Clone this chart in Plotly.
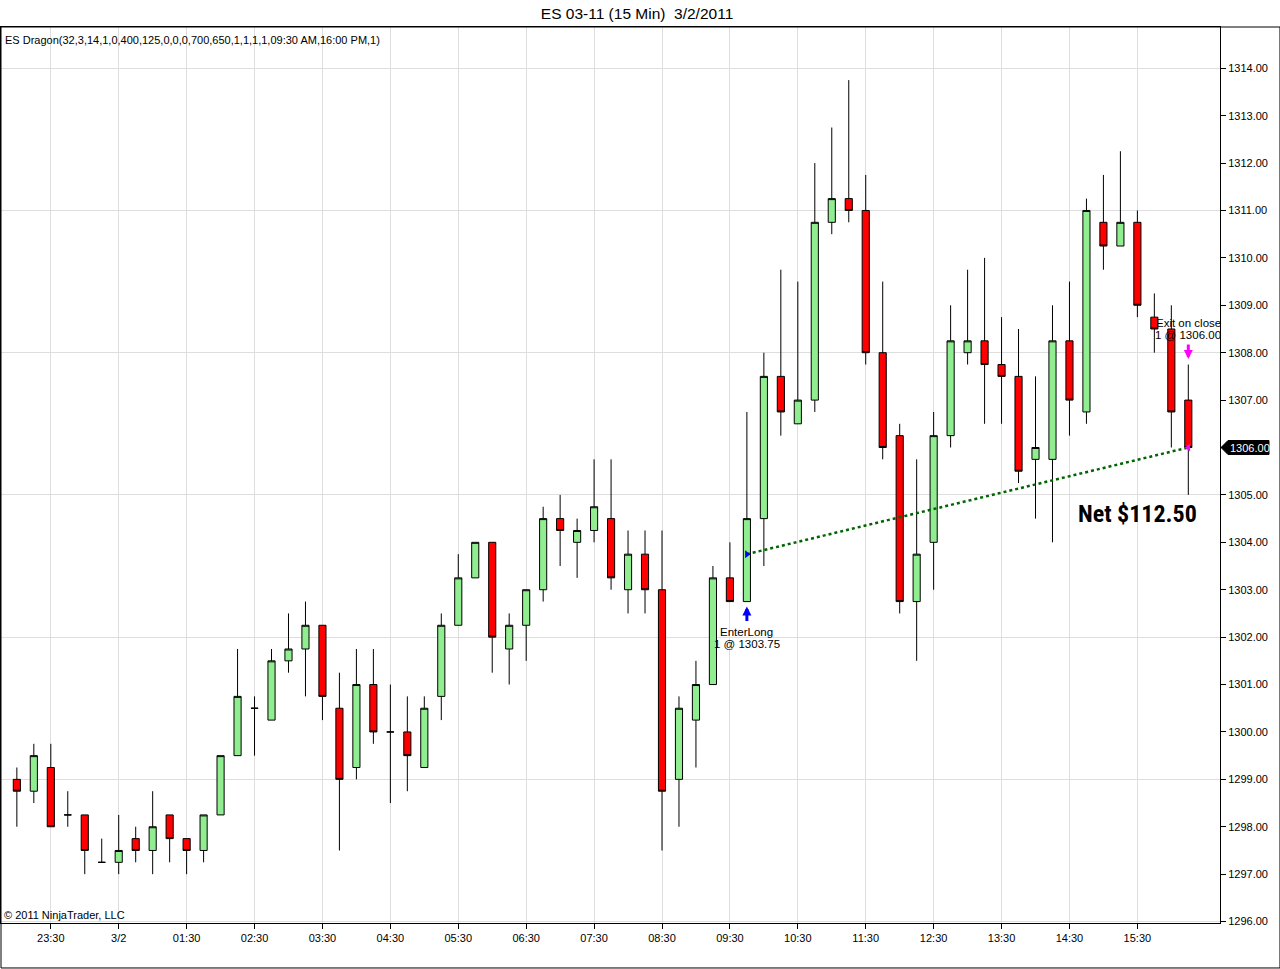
import pandas as pd
import plotly.graph_objects as go

# 15 minute bars, ES 03-11, session of 3/2/2011
bar_times = pd.date_range("2011-03-01 23:00", "2011-03-02 16:15", freq="15min")

open_ = [1299.00, 1298.75, 1299.25, 1298.25, 1298.25, 1297.25, 1297.25, 1297.75, 1297.50, 1298.25,
         1297.75, 1297.50, 1298.25, 1299.50, 1300.50, 1300.25, 1301.50, 1301.75, 1302.25, 1300.50,
         1299.25, 1301.00, 1300.00, 1300.00, 1299.25, 1300.75, 1302.25, 1303.25, 1304.00, 1301.75,
         1302.25, 1303.00, 1304.50, 1304.00, 1304.25, 1304.50, 1303.00, 1303.75, 1303.00, 1299.00,
         1300.25, 1301.00, 1303.25, 1302.75, 1304.50, 1307.50, 1306.50, 1307.00, 1310.75, 1311.25,
         1311.00, 1308.00, 1306.25, 1302.75, 1304.00, 1306.25, 1308.00, 1308.25, 1307.75, 1307.50,
         1305.75, 1305.75, 1308.25, 1306.75, 1310.75, 1310.25, 1310.75, 1308.75, 1308.50, 1307.00]
high = [1299.25, 1299.75, 1299.75, 1298.75, 1298.25, 1297.75, 1298.25, 1298.00, 1298.75, 1298.25,
        1297.75, 1298.25, 1299.50, 1301.75, 1300.75, 1301.75, 1302.50, 1302.75, 1302.25, 1301.25,
        1301.75, 1301.75, 1301.00, 1300.75, 1300.75, 1302.50, 1303.75, 1304.00, 1304.00, 1302.50,
        1303.00, 1304.75, 1305.00, 1304.50, 1305.75, 1305.75, 1304.25, 1304.25, 1304.25, 1300.75,
        1301.50, 1303.50, 1304.00, 1306.75, 1308.00, 1309.75, 1309.50, 1312.00, 1312.75, 1313.75,
        1311.75, 1309.50, 1306.50, 1305.75, 1306.75, 1309.00, 1309.75, 1310.00, 1308.75, 1308.50,
        1307.50, 1309.00, 1309.50, 1311.25, 1311.75, 1312.25, 1311.00, 1309.25, 1309.00, 1307.75]
low = [1298.00, 1298.50, 1298.00, 1298.00, 1297.00, 1297.25, 1297.00, 1297.25, 1297.00, 1297.25,
       1297.00, 1297.25, 1298.25, 1299.50, 1299.50, 1300.25, 1301.25, 1300.75, 1300.25, 1297.50,
       1299.00, 1299.75, 1298.50, 1298.75, 1299.25, 1300.25, 1302.25, 1303.25, 1301.25, 1301.00,
       1301.50, 1302.75, 1303.50, 1303.25, 1304.00, 1303.00, 1302.50, 1302.50, 1297.50, 1298.00,
       1299.25, 1301.00, 1302.75, 1302.75, 1303.50, 1306.25, 1306.50, 1306.75, 1310.50, 1310.75,
       1307.75, 1305.75, 1302.50, 1301.50, 1303.00, 1306.00, 1307.75, 1306.50, 1306.50, 1305.25,
       1304.50, 1304.00, 1306.25, 1306.50, 1309.75, 1310.25, 1308.75, 1308.00, 1306.00, 1305.00]
close = [1298.75, 1299.50, 1298.00, 1298.25, 1297.50, 1297.25, 1297.50, 1297.50, 1298.00, 1297.75,
         1297.50, 1298.25, 1299.50, 1300.75, 1300.50, 1301.50, 1301.75, 1302.25, 1300.75, 1299.00,
         1301.00, 1300.00, 1300.00, 1299.50, 1300.50, 1302.25, 1303.25, 1304.00, 1302.00, 1302.25,
         1303.00, 1304.50, 1304.25, 1304.25, 1304.75, 1303.25, 1303.75, 1303.00, 1298.75, 1300.50,
         1301.00, 1303.25, 1302.75, 1304.50, 1307.50, 1306.75, 1307.00, 1310.75, 1311.25, 1311.00,
         1308.00, 1306.00, 1302.75, 1303.75, 1306.25, 1308.25, 1308.25, 1307.75, 1307.50, 1305.50,
         1306.00, 1308.25, 1307.00, 1311.00, 1310.25, 1310.75, 1309.00, 1308.50, 1306.75, 1306.00]

tick_times = ["2011-03-01 23:30", "2011-03-02 00:30", "2011-03-02 01:30", "2011-03-02 02:30",
              "2011-03-02 03:30", "2011-03-02 04:30", "2011-03-02 05:30", "2011-03-02 06:30",
              "2011-03-02 07:30", "2011-03-02 08:30", "2011-03-02 09:30", "2011-03-02 10:30",
              "2011-03-02 11:30", "2011-03-02 12:30", "2011-03-02 13:30", "2011-03-02 14:30",
              "2011-03-02 15:30"]
tick_labels = ["23:30", "3/2", "01:30", "02:30", "03:30", "04:30", "05:30", "06:30", "07:30",
               "08:30", "09:30", "10:30", "11:30", "12:30", "13:30", "14:30", "15:30"]

# the one trade of the strategy
entry_bar = 43
exit_bar = 69
entry_price = 1303.75
exit_price = 1306.00
point_value = 50

grid = "#DEDEDE"
font = "Arial, Liberation Sans, sans-serif"
net = (exit_price - entry_price) * point_value
t_in = bar_times[entry_bar]
t_out = bar_times[exit_bar]

fig = go.Figure()
fig.add_trace(go.Candlestick(x=bar_times, open=open_, high=high, low=low, close=close,
                             increasing=dict(fillcolor="#90EE90", line=dict(color="black", width=1)),
                             decreasing=dict(fillcolor="#FF0000", line=dict(color="black", width=1)),
                             whiskerwidth=0, showlegend=False, hoverinfo="x+y"))
fig.add_trace(go.Scatter(x=[t_in, t_out], y=[entry_price, exit_price], mode="lines",
                         line=dict(color="#006400", width=2.5, dash="dot"),
                         yaxis="y2", showlegend=False))
fig.add_trace(go.Scatter(x=[t_in], y=[entry_price], mode="markers", yaxis="y2",
                         marker=dict(symbol="triangle-right", size=7, color="blue"),
                         showlegend=False))
fig.add_trace(go.Scatter(x=[t_out], y=[exit_price], mode="markers", yaxis="y2",
                         marker=dict(symbol="triangle-left", size=7, color="#FF00FF"),
                         showlegend=False))

x_range = [bar_times[0] - pd.Timedelta(minutes=14), bar_times[-1] + pd.Timedelta(minutes=28)]
y_range = [1295.97, 1314.87]

fig.update_layout(
    width=1280, height=969,
    margin=dict(l=1, r=60, t=27, b=46),
    paper_bgcolor="white", plot_bgcolor="white",
    font=dict(family=font, size=11, color="black"),
    boxgap=0.4,
    title=dict(text="ES 03-11 (15 Min)\u00a0 3/2/2011", x=0.4977, xref="container",
               y=1 - 14 / 969, yref="container", yanchor="middle", xanchor="center",
               font=dict(size=15.5, color="black")),
    xaxis=dict(type="date", range=x_range, tickvals=tick_times, ticktext=tick_labels,
               ticks="outside", ticklen=5, tickcolor="black", showgrid=True, gridcolor=grid,
               showline=True, linecolor="black", mirror=True, zeroline=False,
               rangeslider=dict(visible=False)),
    yaxis=dict(side="right", range=y_range, dtick=1, tick0=0, tickformat=".2f",
               ticks="outside", ticklen=5, tickcolor="black", showgrid=False,
               showline=True, linecolor="black", mirror=True, zeroline=False),
    yaxis2=dict(overlaying="y", side="right", range=y_range, dtick=3, tick0=0,
                showgrid=True, gridcolor=grid, showticklabels=False, ticks="",
                showline=False, zeroline=False),
)

# outer frame of the chart window
fig.add_shape(type="rect", xref="paper", yref="paper", x0=0, x1=1.0492, y0=-0.0502, y1=1,
              line=dict(color="black", width=1), layer="above")

# last price marker on the price axis
fig.add_shape(type="path", xref="paper", xsizemode="pixel", xanchor=1,
              yref="y", ysizemode="pixel", yanchor=close[-1],
              path="M 1,0 L 8,7 L 49,7 L 49,-7 L 8,-7 Z",
              fillcolor="black", line=dict(color="black", width=1), layer="above")
fig.add_annotation(x=1, xref="paper", y=close[-1], yref="y", xanchor="left", yanchor="middle",
                   xshift=8, text=f"{close[-1]:.2f}", showarrow=False,
                   font=dict(color="white", size=11))

fig.add_annotation(x=0, y=1, xref="paper", yref="paper", xanchor="left", yanchor="top",
                   xshift=2, yshift=-5, showarrow=False,
                   text="ES Dragon(32,3,14,1,0,400,125,0,0,0,700,650,1,1,1,1,09:30 AM,16:00 PM,1)")
fig.add_annotation(x=0, y=0, xref="paper", yref="paper", xanchor="left", yanchor="bottom",
                   xshift=1, yshift=0, showarrow=False, text="© 2011 NinjaTrader, LLC")

# entry
fig.add_annotation(x=t_in, y=low[entry_bar], text="", showarrow=True, ax=0, ay=16,
                   yshift=-5, arrowhead=2, arrowsize=0.6, arrowwidth=3, arrowcolor="blue")
fig.add_annotation(x=t_in, y=low[entry_bar], text="EnterLong", showarrow=False,
                   yshift=-30.5, yanchor="middle", font=dict(size=11.5))
fig.add_annotation(x=t_in, y=low[entry_bar], text=f"1 @ {entry_price:.2f}", showarrow=False,
                   yshift=-42.5, yanchor="middle", font=dict(size=11.5))

# exit
fig.add_annotation(x=t_out, y=high[exit_bar], text="", showarrow=True, ax=0, ay=-16,
                   yshift=5.5, arrowhead=2, arrowsize=0.6, arrowwidth=3, arrowcolor="#FF00FF")
fig.add_annotation(x=t_out, y=high[exit_bar], text="Exit on close", showarrow=False,
                   yshift=41.5, yanchor="middle", font=dict(size=11.5))
fig.add_annotation(x=t_out, y=high[exit_bar], text=f"1 @ {exit_price:.2f}", showarrow=False,
                   yshift=29.5, yanchor="middle", font=dict(size=11.5))

fig.add_annotation(x=0.9327, y=0.4565, xref="paper", yref="paper", showarrow=False,
                   xanchor="center", yanchor="middle",
                   text=f"Net ${net:.2f}",
                   font=dict(family="Roboto Condensed, Open Sans Condensed, Noto Sans Condensed, "
                                    "Liberation Sans Narrow, DejaVu Sans Condensed",
                             size=24, weight=700, color="black"))

fig.write_html("out.html", config={"displayModeBar": False},
               post_script="document.body.style.margin = '0px';")
